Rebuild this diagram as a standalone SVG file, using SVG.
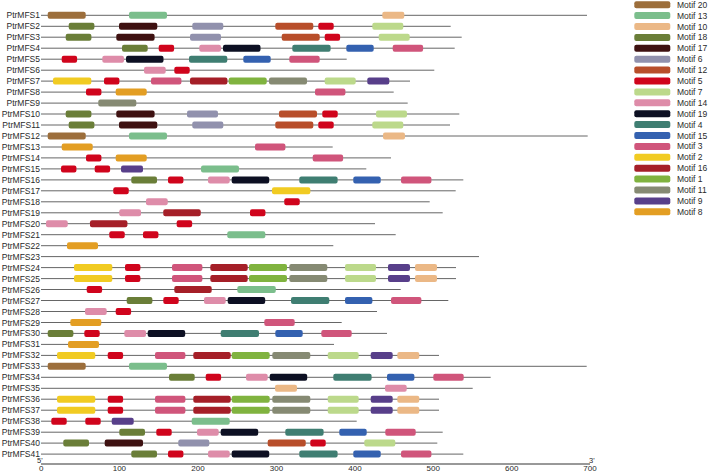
<svg xmlns="http://www.w3.org/2000/svg" width="708" height="474" viewBox="0 0 708 474">
<style>
text{font-family:"Liberation Sans",Arial,sans-serif;font-size:8.5px;fill:#2a2a2a}
.lb{text-anchor:end}
.bb{stroke:#666;stroke-width:1;fill:none}
rect{height:7px}
.row rect{y:-3.5px}
.m20{fill:#9C6E3B}.m13{fill:#7BBE8C}.m10{fill:#EBB886}.m18{fill:#6A7E38}.m17{fill:#3E1111}
.m6{fill:#9191AD}.m12{fill:#B84E2A}.m5{fill:#D0041C}.m7{fill:#BCD98B}.m14{fill:#DE8CA9}
.m19{fill:#0D1023}.m4{fill:#3F7E72}.m15{fill:#3461B0}.m3{fill:#D0557B}.m2{fill:#F1CB22}
.m16{fill:#A51F28}.m1{fill:#80B33F}.m11{fill:#868A73}.m9{fill:#583F8A}.m8{fill:#E39E23}
.ax{stroke:#333;stroke-width:1}
.tk{text-anchor:middle;font-size:8px}
.end{font-size:7.5px}
</style>
<g id="rows">
<g id="PtrMFS1" class="row" transform="translate(0,15.3)"><text class="lb" x="40" y="3">PtrMFS1</text><line class="bb" x1="41" x2="587" y1="0" y2="0"/><rect class="m20" x="47.7" width="38" rx="2"/><rect class="m13" x="129" width="38" rx="2"/><rect class="m10" x="382.3" width="22" rx="2"/></g>
<g id="PtrMFS2" class="row" transform="translate(0,26.3)"><text class="lb" x="40" y="3">PtrMFS2</text><line class="bb" x1="41" x2="450.7" y1="0" y2="0"/><rect class="m18" x="68.7" width="25.7" rx="2"/><rect class="m17" x="119" width="38.3" rx="2"/><rect class="m6" x="192.3" width="31" rx="2"/><rect class="m12" x="275.3" width="38" rx="2"/><rect class="m5" x="318.3" width="15.4" rx="2"/><rect class="m7" x="372.3" width="31" rx="2"/></g>
<g id="PtrMFS3" class="row" transform="translate(0,37.2)"><text class="lb" x="40" y="3">PtrMFS3</text><line class="bb" x1="41" x2="461.7" y1="0" y2="0"/><rect class="m18" x="65.7" width="25.7" rx="2"/><rect class="m17" x="116.3" width="38.3" rx="2"/><rect class="m6" x="190" width="31" rx="2"/><rect class="m12" x="281.7" width="38" rx="2"/><rect class="m5" x="324.7" width="15.4" rx="2"/><rect class="m7" x="378.7" width="31" rx="2"/></g>
<g id="PtrMFS4" class="row" transform="translate(0,48.2)"><text class="lb" x="40" y="3">PtrMFS4</text><line class="bb" x1="41" x2="454.7" y1="0" y2="0"/><rect class="m18" x="122" width="25.7" rx="2"/><rect class="m5" x="158.7" width="15.4" rx="2"/><rect class="m14" x="199.3" width="21.7" rx="2"/><rect class="m19" x="223" width="37.5" rx="2"/><rect class="m4" x="292.3" width="38.3" rx="2"/><rect class="m15" x="346.3" width="27.4" rx="2"/><rect class="m3" x="392.7" width="30.4" rx="2"/></g>
<g id="PtrMFS5" class="row" transform="translate(0,59.2)"><text class="lb" x="40" y="3">PtrMFS5</text><line class="bb" x1="41" x2="346.7" y1="0" y2="0"/><rect class="m5" x="61.7" width="15.4" rx="2"/><rect class="m14" x="102.3" width="21.7" rx="2"/><rect class="m19" x="126" width="37.5" rx="2"/><rect class="m4" x="189" width="38.3" rx="2"/><rect class="m15" x="243.3" width="27.4" rx="2"/><rect class="m3" x="289.3" width="30.4" rx="2"/></g>
<g id="PtrMFS6" class="row" transform="translate(0,70.2)"><text class="lb" x="40" y="3">PtrMFS6</text><line class="bb" x1="41" x2="434.3" y1="0" y2="0"/><rect class="m14" x="144" width="21.7" rx="2"/><rect class="m5" x="174.3" width="15.4" rx="2"/></g>
<g id="PtrMFS7" class="row" transform="translate(0,81.1)"><text class="lb" x="40" y="3">PtrMFS7</text><line class="bb" x1="41" x2="410" y1="0" y2="0"/><rect class="m2" x="53" width="38.3" rx="2"/><rect class="m5" x="104" width="15.4" rx="2"/><rect class="m3" x="151" width="30.4" rx="2"/><rect class="m16" x="190" width="37.4" rx="2"/><rect class="m1" x="228.7" width="38" rx="2"/><rect class="m11" x="269" width="38" rx="2"/><rect class="m7" x="324.7" width="31" rx="2"/><rect class="m9" x="367.3" width="22" rx="2"/></g>
<g id="PtrMFS8" class="row" transform="translate(0,92.1)"><text class="lb" x="40" y="3">PtrMFS8</text><line class="bb" x1="41" x2="393.7" y1="0" y2="0"/><rect class="m5" x="86" width="15.4" rx="2"/><rect class="m8" x="115.7" width="31" rx="2"/><rect class="m3" x="315" width="30.4" rx="2"/></g>
<g id="PtrMFS9" class="row" transform="translate(0,103.1)"><text class="lb" x="40" y="3">PtrMFS9</text><line class="bb" x1="41" x2="407.7" y1="0" y2="0"/><rect class="m11" x="98.3" width="38" rx="2"/></g>
<g id="PtrMFS10" class="row" transform="translate(0,114)"><text class="lb" x="40" y="3">PtrMFS10</text><line class="bb" x1="41" x2="459.3" y1="0" y2="0"/><rect class="m18" x="65.7" width="25.7" rx="2"/><rect class="m17" x="116.3" width="38.3" rx="2"/><rect class="m6" x="187" width="31" rx="2"/><rect class="m12" x="279" width="38" rx="2"/><rect class="m5" x="322.3" width="15.4" rx="2"/><rect class="m7" x="376" width="31" rx="2"/></g>
<g id="PtrMFS11" class="row" transform="translate(0,125)"><text class="lb" x="40" y="3">PtrMFS11</text><line class="bb" x1="41" x2="450" y1="0" y2="0"/><rect class="m18" x="68.7" width="25.7" rx="2"/><rect class="m17" x="119" width="38.3" rx="2"/><rect class="m6" x="192.3" width="31" rx="2"/><rect class="m12" x="275.3" width="38" rx="2"/><rect class="m5" x="318.3" width="15.4" rx="2"/><rect class="m7" x="372.3" width="31" rx="2"/></g>
<g id="PtrMFS12" class="row" transform="translate(0,136)"><text class="lb" x="40" y="3">PtrMFS12</text><line class="bb" x1="41" x2="587.7" y1="0" y2="0"/><rect class="m20" x="47.7" width="38" rx="2"/><rect class="m13" x="129" width="38" rx="2"/><rect class="m10" x="383" width="22" rx="2"/></g>
<g id="PtrMFS13" class="row" transform="translate(0,147)"><text class="lb" x="40" y="3">PtrMFS13</text><line class="bb" x1="41" x2="332.7" y1="0" y2="0"/><rect class="m8" x="61.7" width="31" rx="2"/><rect class="m3" x="255" width="30.4" rx="2"/></g>
<g id="PtrMFS14" class="row" transform="translate(0,157.9)"><text class="lb" x="40" y="3">PtrMFS14</text><line class="bb" x1="41" x2="391" y1="0" y2="0"/><rect class="m5" x="86" width="15.4" rx="2"/><rect class="m8" x="115.7" width="31" rx="2"/><rect class="m3" x="312.7" width="30.4" rx="2"/></g>
<g id="PtrMFS15" class="row" transform="translate(0,168.9)"><text class="lb" x="40" y="3">PtrMFS15</text><line class="bb" x1="41" x2="366.3" y1="0" y2="0"/><rect class="m5" x="61" width="15.4" rx="2"/><rect class="m5" x="94.7" width="15.4" rx="2"/><rect class="m9" x="121" width="22" rx="2"/><rect class="m13" x="201" width="38" rx="2"/></g>
<g id="PtrMFS16" class="row" transform="translate(0,179.9)"><text class="lb" x="40" y="3">PtrMFS16</text><line class="bb" x1="41" x2="463.3" y1="0" y2="0"/><rect class="m18" x="131.3" width="25.7" rx="2"/><rect class="m5" x="168" width="15.4" rx="2"/><rect class="m14" x="208" width="21.7" rx="2"/><rect class="m19" x="231.7" width="37.5" rx="2"/><rect class="m4" x="299.3" width="38.3" rx="2"/><rect class="m15" x="353.3" width="27.4" rx="2"/><rect class="m3" x="401" width="30.4" rx="2"/></g>
<g id="PtrMFS17" class="row" transform="translate(0,190.8)"><text class="lb" x="40" y="3">PtrMFS17</text><line class="bb" x1="41" x2="455.7" y1="0" y2="0"/><rect class="m5" x="113.3" width="15.4" rx="2"/><rect class="m2" x="272" width="38.3" rx="2"/></g>
<g id="PtrMFS18" class="row" transform="translate(0,201.8)"><text class="lb" x="40" y="3">PtrMFS18</text><line class="bb" x1="41" x2="429.7" y1="0" y2="0"/><rect class="m14" x="146" width="21.7" rx="2"/><rect class="m5" x="284.3" width="15.4" rx="2"/></g>
<g id="PtrMFS19" class="row" transform="translate(0,212.8)"><text class="lb" x="40" y="3">PtrMFS19</text><line class="bb" x1="41" x2="442.7" y1="0" y2="0"/><rect class="m14" x="119.3" width="21.7" rx="2"/><rect class="m16" x="163.3" width="37.4" rx="2"/><rect class="m5" x="250" width="15.4" rx="2"/></g>
<g id="PtrMFS20" class="row" transform="translate(0,223.7)"><text class="lb" x="40" y="3">PtrMFS20</text><line class="bb" x1="41" x2="375" y1="0" y2="0"/><rect class="m14" x="46" width="21.7" rx="2"/><rect class="m16" x="90" width="37.4" rx="2"/><rect class="m5" x="176.7" width="15.4" rx="2"/></g>
<g id="PtrMFS21" class="row" transform="translate(0,234.7)"><text class="lb" x="40" y="3">PtrMFS21</text><line class="bb" x1="41" x2="395.7" y1="0" y2="0"/><rect class="m5" x="109.3" width="15.4" rx="2"/><rect class="m5" x="143" width="15.4" rx="2"/><rect class="m13" x="227.3" width="38" rx="2"/></g>
<g id="PtrMFS22" class="row" transform="translate(0,245.7)"><text class="lb" x="40" y="3">PtrMFS22</text><line class="bb" x1="41" x2="333.3" y1="0" y2="0"/><rect class="m8" x="67" width="31" rx="2"/></g>
<g id="PtrMFS23" class="row" transform="translate(0,256.6)"><text class="lb" x="40" y="3">PtrMFS23</text><line class="bb" x1="41" x2="479" y1="0" y2="0"/></g>
<g id="PtrMFS24" class="row" transform="translate(0,267.6)"><text class="lb" x="40" y="3">PtrMFS24</text><line class="bb" x1="41" x2="456" y1="0" y2="0"/><rect class="m2" x="74" width="38.3" rx="2"/><rect class="m5" x="125" width="15.4" rx="2"/><rect class="m3" x="172" width="30.4" rx="2"/><rect class="m16" x="210.3" width="37.4" rx="2"/><rect class="m1" x="249" width="38" rx="2"/><rect class="m11" x="289.3" width="38" rx="2"/><rect class="m7" x="345" width="31" rx="2"/><rect class="m9" x="388" width="22" rx="2"/><rect class="m10" x="415" width="22" rx="2"/></g>
<g id="PtrMFS25" class="row" transform="translate(0,278.6)"><text class="lb" x="40" y="3">PtrMFS25</text><line class="bb" x1="41" x2="456" y1="0" y2="0"/><rect class="m2" x="74" width="38.3" rx="2"/><rect class="m5" x="125" width="15.4" rx="2"/><rect class="m3" x="172" width="30.4" rx="2"/><rect class="m16" x="210.3" width="37.4" rx="2"/><rect class="m1" x="249" width="38" rx="2"/><rect class="m11" x="289.3" width="38" rx="2"/><rect class="m7" x="345" width="31" rx="2"/><rect class="m9" x="388" width="22" rx="2"/><rect class="m10" x="415" width="22" rx="2"/></g>
<g id="PtrMFS26" class="row" transform="translate(0,289.5)"><text class="lb" x="40" y="3">PtrMFS26</text><line class="bb" x1="41" x2="400.7" y1="0" y2="0"/><rect class="m5" x="86.7" width="15.4" rx="2"/><rect class="m16" x="174.3" width="37.4" rx="2"/><rect class="m13" x="237.3" width="38.5" rx="2"/></g>
<g id="PtrMFS27" class="row" transform="translate(0,300.5)"><text class="lb" x="40" y="3">PtrMFS27</text><line class="bb" x1="41" x2="448.3" y1="0" y2="0"/><rect class="m18" x="126.7" width="25.7" rx="2"/><rect class="m5" x="163.3" width="15.4" rx="2"/><rect class="m14" x="204" width="21.7" rx="2"/><rect class="m19" x="227.7" width="37.5" rx="2"/><rect class="m4" x="291" width="38.3" rx="2"/><rect class="m15" x="345" width="27.4" rx="2"/><rect class="m3" x="391" width="30.4" rx="2"/></g>
<g id="PtrMFS28" class="row" transform="translate(0,311.5)"><text class="lb" x="40" y="3">PtrMFS28</text><line class="bb" x1="41" x2="377" y1="0" y2="0"/><rect class="m14" x="85" width="21.7" rx="2"/><rect class="m5" x="115.7" width="15.4" rx="2"/></g>
<g id="PtrMFS29" class="row" transform="translate(0,322.5)"><text class="lb" x="40" y="3">PtrMFS29</text><line class="bb" x1="41" x2="341.7" y1="0" y2="0"/><rect class="m8" x="70.3" width="31" rx="2"/><rect class="m3" x="264.3" width="30.4" rx="2"/></g>
<g id="PtrMFS30" class="row" transform="translate(0,333.4)"><text class="lb" x="40" y="3">PtrMFS30</text><line class="bb" x1="41" x2="387" y1="0" y2="0"/><rect class="m18" x="47.7" width="25.7" rx="2"/><rect class="m5" x="84.3" width="15.4" rx="2"/><rect class="m14" x="124.3" width="21.7" rx="2"/><rect class="m19" x="147.7" width="37.5" rx="2"/><rect class="m4" x="220.7" width="38.3" rx="2"/><rect class="m15" x="275.3" width="27.4" rx="2"/><rect class="m3" x="321.3" width="30.4" rx="2"/></g>
<g id="PtrMFS31" class="row" transform="translate(0,344.4)"><text class="lb" x="40" y="3">PtrMFS31</text><line class="bb" x1="41" x2="334" y1="0" y2="0"/><rect class="m8" x="68" width="31" rx="2"/></g>
<g id="PtrMFS32" class="row" transform="translate(0,355.4)"><text class="lb" x="40" y="3">PtrMFS32</text><line class="bb" x1="41" x2="439" y1="0" y2="0"/><rect class="m2" x="57" width="38.3" rx="2"/><rect class="m5" x="107.7" width="15.4" rx="2"/><rect class="m3" x="155" width="30.4" rx="2"/><rect class="m16" x="193.3" width="37.4" rx="2"/><rect class="m1" x="231.7" width="38" rx="2"/><rect class="m11" x="272.3" width="38" rx="2"/><rect class="m7" x="327.7" width="31" rx="2"/><rect class="m9" x="370.7" width="22" rx="2"/><rect class="m10" x="397.3" width="22" rx="2"/></g>
<g id="PtrMFS33" class="row" transform="translate(0,366.3)"><text class="lb" x="40" y="3">PtrMFS33</text><line class="bb" x1="41" x2="586.7" y1="0" y2="0"/><rect class="m20" x="47.7" width="38" rx="2"/><rect class="m13" x="129" width="38" rx="2"/></g>
<g id="PtrMFS34" class="row" transform="translate(0,377.3)"><text class="lb" x="40" y="3">PtrMFS34</text><line class="bb" x1="41" x2="490.7" y1="0" y2="0"/><rect class="m18" x="169" width="25.7" rx="2"/><rect class="m5" x="205.7" width="15.4" rx="2"/><rect class="m14" x="246" width="21.7" rx="2"/><rect class="m19" x="269.7" width="37.5" rx="2"/><rect class="m4" x="333.3" width="38.3" rx="2"/><rect class="m15" x="387" width="27.4" rx="2"/><rect class="m3" x="433.3" width="30.4" rx="2"/></g>
<g id="PtrMFS35" class="row" transform="translate(0,388.3)"><text class="lb" x="40" y="3">PtrMFS35</text><line class="bb" x1="41" x2="472.7" y1="0" y2="0"/><rect class="m10" x="275" width="22" rx="2"/><rect class="m14" x="385" width="21.7" rx="2"/></g>
<g id="PtrMFS36" class="row" transform="translate(0,399.2)"><text class="lb" x="40" y="3">PtrMFS36</text><line class="bb" x1="41" x2="439" y1="0" y2="0"/><rect class="m2" x="57" width="38.3" rx="2"/><rect class="m5" x="107.7" width="15.4" rx="2"/><rect class="m3" x="155" width="30.4" rx="2"/><rect class="m16" x="193.3" width="37.4" rx="2"/><rect class="m1" x="231.7" width="38" rx="2"/><rect class="m11" x="272.3" width="38" rx="2"/><rect class="m7" x="327.7" width="31" rx="2"/><rect class="m9" x="370.7" width="22" rx="2"/><rect class="m10" x="397.3" width="22" rx="2"/></g>
<g id="PtrMFS37" class="row" transform="translate(0,410.2)"><text class="lb" x="40" y="3">PtrMFS37</text><line class="bb" x1="41" x2="439" y1="0" y2="0"/><rect class="m2" x="57" width="38.3" rx="2"/><rect class="m5" x="107.7" width="15.4" rx="2"/><rect class="m3" x="155" width="30.4" rx="2"/><rect class="m16" x="193.3" width="37.4" rx="2"/><rect class="m1" x="231.7" width="38" rx="2"/><rect class="m11" x="272.3" width="38" rx="2"/><rect class="m7" x="327.7" width="31" rx="2"/><rect class="m9" x="370.7" width="22" rx="2"/><rect class="m10" x="397.3" width="22" rx="2"/></g>
<g id="PtrMFS38" class="row" transform="translate(0,421.2)"><text class="lb" x="40" y="3">PtrMFS38</text><line class="bb" x1="41" x2="356.7" y1="0" y2="0"/><rect class="m5" x="51.3" width="15.4" rx="2"/><rect class="m5" x="85.3" width="15.4" rx="2"/><rect class="m9" x="111.7" width="22" rx="2"/><rect class="m13" x="191.7" width="38" rx="2"/></g>
<g id="PtrMFS39" class="row" transform="translate(0,432.2)"><text class="lb" x="40" y="3">PtrMFS39</text><line class="bb" x1="41" x2="442.7" y1="0" y2="0"/><rect class="m18" x="119.3" width="25.7" rx="2"/><rect class="m5" x="156.3" width="15.4" rx="2"/><rect class="m14" x="197" width="21.7" rx="2"/><rect class="m19" x="220.7" width="37.5" rx="2"/><rect class="m4" x="285.3" width="38.3" rx="2"/><rect class="m15" x="339.3" width="27.4" rx="2"/><rect class="m3" x="385.3" width="30.4" rx="2"/></g>
<g id="PtrMFS40" class="row" transform="translate(0,443.1)"><text class="lb" x="40" y="3">PtrMFS40</text><line class="bb" x1="41" x2="437.3" y1="0" y2="0"/><rect class="m18" x="63.3" width="25.7" rx="2"/><rect class="m17" x="104.7" width="38.3" rx="2"/><rect class="m6" x="178.3" width="31" rx="2"/><rect class="m12" x="267.7" width="38" rx="2"/><rect class="m5" x="310.3" width="15.4" rx="2"/><rect class="m7" x="364.3" width="31" rx="2"/></g>
<g id="PtrMFS41" class="row" transform="translate(0,454.1)"><text class="lb" x="40" y="3">PtrMFS41</text><line class="bb" x1="41" x2="463.3" y1="0" y2="0"/><rect class="m18" x="131.3" width="25.7" rx="2"/><rect class="m5" x="168" width="15.4" rx="2"/><rect class="m14" x="208" width="21.7" rx="2"/><rect class="m19" x="231.7" width="37.5" rx="2"/><rect class="m4" x="299.3" width="38.3" rx="2"/><rect class="m15" x="353.3" width="27.4" rx="2"/><rect class="m3" x="401" width="30.4" rx="2"/></g>
</g>
<g id="axis">
<line class="ax" x1="41" x2="590" y1="464" y2="464"/>
<text class="end" x="37" y="463.3">5'</text>
<text class="end" x="589" y="462.5">3'</text>
<text class="tk" x="41.3" y="471.3">0</text>
<text class="tk" x="119.4" y="471.3">100</text>
<text class="tk" x="198" y="471.3">200</text>
<text class="tk" x="276.5" y="471.3">300</text>
<text class="tk" x="355" y="471.3">400</text>
<text class="tk" x="433.3" y="471.3">500</text>
<text class="tk" x="511.7" y="471.3">600</text>
<text class="tk" x="590" y="471.3">700</text>
</g>
<g id="legend">
<rect class="m20" x="634.3" y="1.2" width="36" rx="2"/><text x="677" y="7.7">Motif 20</text>
<rect class="m13" x="634.3" y="12.1" width="36" rx="2"/><text x="677" y="18.6">Motif 13</text>
<rect class="m10" x="634.3" y="23" width="36" rx="2"/><text x="677" y="29.5">Motif 10</text>
<rect class="m18" x="634.3" y="33.9" width="36" rx="2"/><text x="677" y="40.4">Motif 18</text>
<rect class="m17" x="634.3" y="44.8" width="36" rx="2"/><text x="677" y="51.3">Motif 17</text>
<rect class="m6" x="634.3" y="55.7" width="36" rx="2"/><text x="677" y="62.2">Motif 6</text>
<rect class="m12" x="634.3" y="66.6" width="36" rx="2"/><text x="677" y="73.1">Motif 12</text>
<rect class="m5" x="634.3" y="77.5" width="36" rx="2"/><text x="677" y="84">Motif 5</text>
<rect class="m7" x="634.3" y="88.4" width="36" rx="2"/><text x="677" y="94.9">Motif 7</text>
<rect class="m14" x="634.3" y="99.3" width="36" rx="2"/><text x="677" y="105.8">Motif 14</text>
<rect class="m19" x="634.3" y="110.2" width="36" rx="2"/><text x="677" y="116.7">Motif 19</text>
<rect class="m4" x="634.3" y="121.1" width="36" rx="2"/><text x="677" y="127.6">Motif 4</text>
<rect class="m15" x="634.3" y="132" width="36" rx="2"/><text x="677" y="138.5">Motif 15</text>
<rect class="m3" x="634.3" y="142.9" width="36" rx="2"/><text x="677" y="149.4">Motif 3</text>
<rect class="m2" x="634.3" y="153.8" width="36" rx="2"/><text x="677" y="160.3">Motif 2</text>
<rect class="m16" x="634.3" y="164.7" width="36" rx="2"/><text x="677" y="171.2">Motif 16</text>
<rect class="m1" x="634.3" y="175.6" width="36" rx="2"/><text x="677" y="182.1">Motif 1</text>
<rect class="m11" x="634.3" y="186.5" width="36" rx="2"/><text x="677" y="193">Motif 11</text>
<rect class="m9" x="634.3" y="197.4" width="36" rx="2"/><text x="677" y="203.9">Motif 9</text>
<rect class="m8" x="634.3" y="208.3" width="36" rx="2"/><text x="677" y="214.8">Motif 8</text>
</g>
</svg>
